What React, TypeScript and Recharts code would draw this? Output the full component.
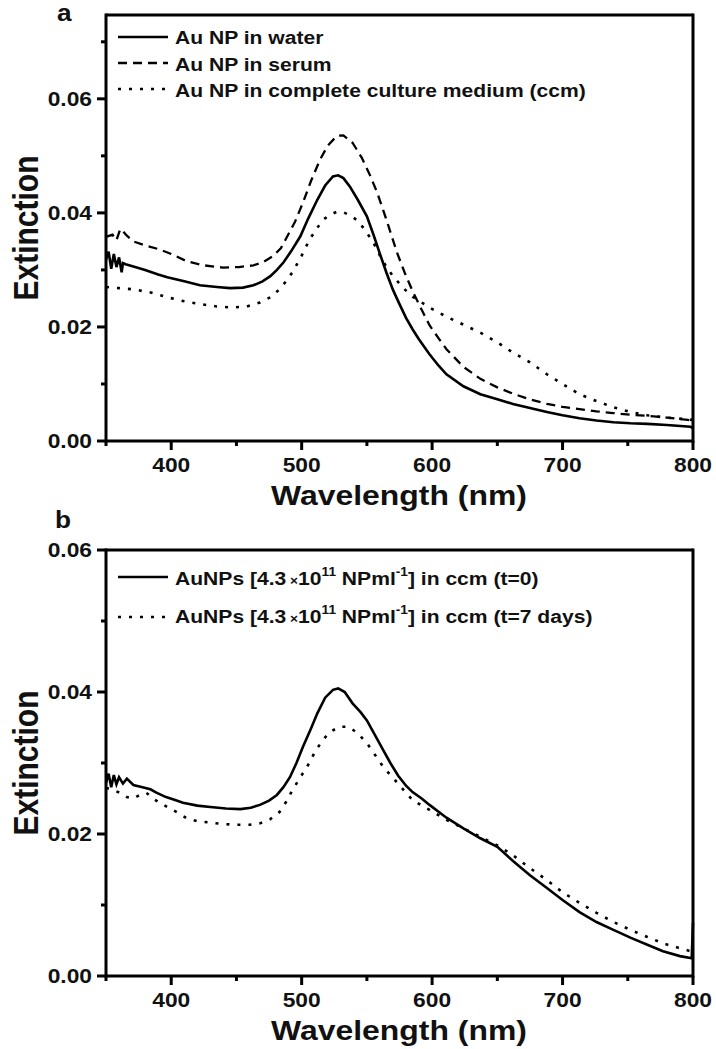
import React from "react";
import { LineChart, Line, XAxis, YAxis } from "recharts";

const FONT = '"Liberation Sans", Arial, sans-serif';
const SX = 1.14; // the source figure is slightly stretched horizontally
const INK = "#111";

// ---- panel a ----
const waterNm = [350, 352, 354, 356, 358, 360, 362, 363, 365, 371, 380, 390, 397, 410, 422, 435, 445, 455, 463, 470, 476, 481, 486, 492, 499, 505, 512, 518, 524, 528, 532, 537, 543, 550, 555, 560, 565, 570, 575, 580, 585, 590, 598, 605, 611, 624, 637, 650, 662, 675, 688, 700, 713, 726, 739, 752, 765, 780, 798, 800];
const waterExt = [0.0318, 0.0332, 0.0302, 0.0328, 0.0305, 0.0322, 0.0296, 0.0312, 0.031, 0.0306, 0.03, 0.0292, 0.0287, 0.028, 0.0273, 0.027, 0.0268, 0.0269, 0.0273, 0.028, 0.0289, 0.03, 0.0313, 0.0333, 0.0359, 0.039, 0.0423, 0.0448, 0.0464, 0.0466, 0.0461, 0.0446, 0.0423, 0.0394, 0.0362, 0.0328, 0.0295, 0.0265, 0.024, 0.0216, 0.0196, 0.0178, 0.0152, 0.0132, 0.0117, 0.0096, 0.0082, 0.0073, 0.0065, 0.0058, 0.0051, 0.0045, 0.004, 0.0036, 0.0033, 0.0031, 0.003, 0.0028, 0.0025, 0.0022];

const serumNm = [350, 355, 358, 361, 363, 366, 371, 380, 391, 400, 412, 425, 440, 452, 463, 470, 478, 484, 489, 495, 501, 507, 514, 520, 527, 532, 539, 546, 552, 558, 565, 573, 579, 585, 592, 598, 605, 611, 624, 637, 650, 662, 675, 688, 700, 713, 726, 739, 752, 765, 780, 796, 800];
const serumExt = [0.0358, 0.0362, 0.0352, 0.0372, 0.0368, 0.036, 0.035, 0.0343, 0.0336, 0.0328, 0.0315, 0.0308, 0.0304, 0.0305, 0.0308, 0.0313, 0.0324, 0.0338, 0.0359, 0.0385, 0.0418, 0.0455, 0.0493, 0.0518, 0.0535, 0.0536, 0.0523, 0.0497, 0.0468, 0.0435, 0.0388, 0.0331, 0.0295, 0.0263, 0.023, 0.0203, 0.018, 0.0161, 0.013, 0.0109, 0.0094, 0.0083, 0.0073, 0.0065, 0.006, 0.0056, 0.0052, 0.0049, 0.0046, 0.0044, 0.0041, 0.0037, 0.0036];

const ccmNm = [350, 360, 371, 385, 397, 410, 422, 435, 447, 458, 468, 476, 483, 488, 493, 500, 506, 512, 517, 522, 527, 532, 537, 542, 548, 555, 560, 565, 570, 578, 585, 592, 598, 611, 624, 637, 650, 662, 675, 688, 700, 713, 726, 739, 752, 765, 780, 796, 800];
const ccmExt = [0.027, 0.0268, 0.0266, 0.026, 0.0252, 0.0245, 0.024, 0.0236, 0.0234, 0.0236, 0.0243, 0.0252, 0.0266, 0.028, 0.0296, 0.0325, 0.0353, 0.0374, 0.0389, 0.0397, 0.0402, 0.0401, 0.0396, 0.0388, 0.0372, 0.0348, 0.0325, 0.0305, 0.0289, 0.0268, 0.0253, 0.0243, 0.0234, 0.0218, 0.0204, 0.019, 0.0173, 0.0155, 0.0138, 0.0117, 0.01, 0.0082, 0.007, 0.0059, 0.0051, 0.0045, 0.0041, 0.0038, 0.0037];

// ---- panel b ----
const t0Nm = [350, 352, 354, 356, 358, 360, 363, 366, 371, 378, 384, 389, 396, 403, 409, 420, 430, 442, 453, 461, 468, 475, 481, 486, 491, 496, 501, 507, 512, 518, 524, 528, 533, 539, 545, 550, 556, 562, 568, 574, 580, 585, 592, 598, 611, 624, 637, 650, 662, 675, 688, 700, 713, 726, 739, 752, 765, 777, 790, 799, 800];
const t0Ext = [0.0272, 0.0285, 0.0266, 0.0283, 0.027, 0.028, 0.0271, 0.0278, 0.0269, 0.0266, 0.0263, 0.0258, 0.0252, 0.0248, 0.0244, 0.024, 0.0238, 0.0236, 0.0235, 0.0237, 0.0241, 0.0247, 0.0255, 0.0266, 0.028, 0.03, 0.0323, 0.0348, 0.037, 0.0392, 0.0403, 0.0405, 0.04, 0.0384, 0.0372, 0.036, 0.034, 0.032, 0.03, 0.0282, 0.0268, 0.0259, 0.025, 0.0241, 0.0223, 0.0208, 0.0194, 0.0182, 0.0162, 0.0142, 0.0124, 0.0107, 0.009, 0.0076, 0.0065, 0.0054, 0.0044, 0.0035, 0.0028, 0.0025, 0.0075];

const t7Nm = [350, 355, 361, 366, 371, 376, 381, 386, 392, 397, 405, 412, 420, 430, 440, 450, 460, 468, 476, 483, 488, 493, 499, 504, 510, 516, 522, 529, 536, 543, 550, 556, 562, 568, 574, 580, 585, 592, 598, 611, 624, 637, 650, 662, 675, 688, 700, 713, 726, 739, 752, 765, 777, 792, 800];
const t7Ext = [0.0265, 0.0262, 0.0258, 0.0252, 0.025, 0.0255, 0.0258, 0.025, 0.0243, 0.0238, 0.023, 0.0222, 0.0218, 0.0216, 0.0214, 0.0213, 0.0213, 0.0215, 0.0221, 0.0231, 0.0245, 0.0262, 0.028, 0.0294, 0.0315, 0.0332, 0.0344, 0.0351, 0.0351, 0.0342, 0.0328, 0.0312, 0.0296, 0.0283, 0.0271, 0.0258, 0.0248, 0.024, 0.0234, 0.022, 0.0208, 0.0196, 0.0184, 0.017, 0.0152, 0.0135, 0.0118, 0.0103, 0.0089, 0.0076, 0.0065, 0.0055, 0.0046, 0.0038, 0.0034];

// ---- axes ----
const xTicks = [350, 400, 450, 500, 550, 600, 650, 700, 750, 800];
const xLabels = [400, 500, 600, 700, 800];
const yTicksA = [0, 0.01, 0.02, 0.03, 0.04, 0.05, 0.06, 0.07];
const yTicksB = [0, 0.01, 0.02, 0.03, 0.04, 0.05, 0.06];

// layout of the two panels (page pixels)
const W = 716;
const LEFT = 106;
const RIGHT = 23;
const A = { top: 0, height: 520, mTop: 15, axisH: 79 };
const B = { top: 520, height: 529, mTop: 30, axisH: 73 };

const zip = (nm: number[], ext: number[]) => nm.map((x, i) => ({ nm: x, ext: ext[i] }));

function XTick({ x, y, payload }: any) {
  const v = payload.value;
  const major = xLabels.includes(v);
  return (
    <g>
      <line x1={x} x2={x} y1={y} y2={y + (major ? 9 : 5)} stroke="#000" strokeWidth={3} />
      {major && (
        <text
          transform={`translate(${x},${y + 31}) scale(${SX},1)`}
          textAnchor="middle"
          fontSize={20}
          fontWeight="bold"
          fontFamily={FONT}
          fill={INK}
        >
          {v}
        </text>
      )}
    </g>
  );
}

function YTick({ x, y, payload }: any) {
  const v = payload.value;
  const major = Math.round(v * 100) % 2 === 0;
  return (
    <g>
      <line x1={x} x2={x - (major ? 9 : 5)} y1={y} y2={y} stroke="#000" strokeWidth={3} />
      {major && (
        <text
          transform={`translate(${x - 14},${y + 7}) scale(${SX},1)`}
          textAnchor="end"
          fontSize={20}
          fontWeight="bold"
          fontFamily={FONT}
          fill={INK}
        >
          {v.toFixed(2)}
        </text>
      )}
    </g>
  );
}

function Panel({ box, yMax, yTicks, children }: any) {
  return (
    <LineChart width={W} height={box.height} margin={{ top: box.mTop, right: RIGHT, bottom: 0, left: 0 }}>
      <XAxis
        type="number"
        dataKey="nm"
        domain={[350, 800]}
        ticks={xTicks}
        interval={0}
        axisLine={false}
        tickLine={false}
        tickSize={0}
        tickMargin={0}
        height={box.axisH}
        tick={<XTick />}
      />
      <YAxis
        type="number"
        dataKey="ext"
        domain={[0, yMax]}
        ticks={yTicks}
        interval={0}
        axisLine={false}
        tickLine={false}
        tickSize={0}
        tickMargin={0}
        width={LEFT}
        tick={<YTick />}
      />
      {children}
    </LineChart>
  );
}

// plot-area border, from the same layout constants the charts use
function Frame({ box }: any) {
  const top = box.top + box.mTop;
  const bottom = box.top + box.height - box.axisH;
  const right = W - RIGHT;
  return (
    <g>
      <line x1={LEFT} x2={right} y1={top} y2={top} stroke="#000" strokeWidth={3} />
      <line x1={LEFT} x2={right} y1={bottom} y2={bottom} stroke="#000" strokeWidth={3} />
      <line x1={LEFT} x2={LEFT} y1={top - 1.5} y2={bottom + 1.5} stroke="#000" strokeWidth={3} />
      <line x1={right} x2={right} y1={top - 1.5} y2={bottom + 1.5} stroke="#000" strokeWidth={3} />
    </g>
  );
}

function LegendRow({ y, dash, width, children }: any) {
  return (
    <g>
      <line x1={118} x2={168} y1={y} y2={y} stroke="#000" strokeWidth={width} strokeDasharray={dash} />
      {children}
    </g>
  );
}

const textProps = { fontWeight: "bold", fontFamily: FONT, fill: INK } as const;

export default function App() {
  return (
    <div style={{ position: "absolute", left: 0, top: 0, width: W, height: 1049, background: "#fff" }}>
      <div style={{ position: "absolute", left: 0, top: A.top }}>
        <Panel box={A} yMax={0.0747} yTicks={yTicksA}>
          <Line data={zip(waterNm, waterExt)} dataKey="ext" stroke="#000" strokeWidth={2.6} dot={false} isAnimationActive={false} type="linear" />
          <Line data={zip(serumNm, serumExt)} dataKey="ext" stroke="#000" strokeWidth={2.3} strokeDasharray="9 6" dot={false} isAnimationActive={false} type="linear" />
          <Line data={zip(ccmNm, ccmExt)} dataKey="ext" stroke="#000" strokeWidth={2.6} strokeDasharray="3 8" dot={false} isAnimationActive={false} type="linear" />
        </Panel>
      </div>
      <div style={{ position: "absolute", left: 0, top: B.top }}>
        <Panel box={B} yMax={0.06} yTicks={yTicksB}>
          <Line data={zip(t0Nm, t0Ext)} dataKey="ext" stroke="#000" strokeWidth={2.6} dot={false} isAnimationActive={false} type="linear" />
          <Line data={zip(t7Nm, t7Ext)} dataKey="ext" stroke="#000" strokeWidth={2.6} strokeDasharray="3 8" dot={false} isAnimationActive={false} type="linear" />
        </Panel>
      </div>

      <svg width={W} height={1049} style={{ position: "absolute", left: 0, top: 0, pointerEvents: "none" }}>
        <Frame box={A} />
        <Frame box={B} />

        {/* panel letters */}
        <text transform={`translate(57,21) scale(${SX},1)`} fontSize={23} {...textProps}>a</text>
        <text transform={`translate(55,528) scale(${SX},1)`} fontSize={23} {...textProps}>b</text>

        {/* axis titles */}
        <text transform={`translate(399,505) scale(${SX},1)`} textAnchor="middle" fontSize={28} {...textProps}>Wavelength (nm)</text>
        <text transform={`translate(399,1040) scale(${SX},1)`} textAnchor="middle" fontSize={28} {...textProps}>Wavelength (nm)</text>
        <text transform={`translate(38,228) scale(${SX},1) rotate(-90)`} textAnchor="middle" fontSize={30} {...textProps}>Extinction</text>
        <text transform={`translate(38,763) scale(${SX},1) rotate(-90)`} textAnchor="middle" fontSize={30} {...textProps}>Extinction</text>

        {/* legend a */}
        <LegendRow y={37} width={2.6}>
          <text transform={`translate(175,44) scale(${SX},1)`} fontSize={18.5} {...textProps}>Au NP in water</text>
        </LegendRow>
        <LegendRow y={63} width={2.3} dash="9 6">
          <text transform={`translate(175,71) scale(${SX},1)`} fontSize={18.5} {...textProps}>Au NP in serum</text>
        </LegendRow>
        <LegendRow y={89} width={2.6} dash="3 8">
          <text transform={`translate(175,97) scale(${SX},1)`} fontSize={18.5} {...textProps}>Au NP in complete culture medium (ccm)</text>
        </LegendRow>

        {/* legend b */}
        <LegendRow y={577} width={2.6}>
          <text transform={`translate(175,585) scale(${SX},1)`} fontSize={18.5} {...textProps}>
            AuNPs [4.3<tspan fontSize={12}> ×</tspan>10<tspan fontSize={12} dy={-9}>11</tspan>
            <tspan dy={9}> NPml</tspan><tspan fontSize={12} dy={-9}>-1</tspan>
            <tspan dy={9}>] in ccm (t=0)</tspan>
          </text>
        </LegendRow>
        <LegendRow y={617} width={2.6} dash="3 8">
          <text transform={`translate(175,623) scale(${SX},1)`} fontSize={18.5} {...textProps}>
            AuNPs [4.3<tspan fontSize={12}> ×</tspan>10<tspan fontSize={12} dy={-9}>11</tspan>
            <tspan dy={9}> NPml</tspan><tspan fontSize={12} dy={-9}>-1</tspan>
            <tspan dy={9}>] in ccm (t=7 days)</tspan>
          </text>
        </LegendRow>
      </svg>
    </div>
  );
}
